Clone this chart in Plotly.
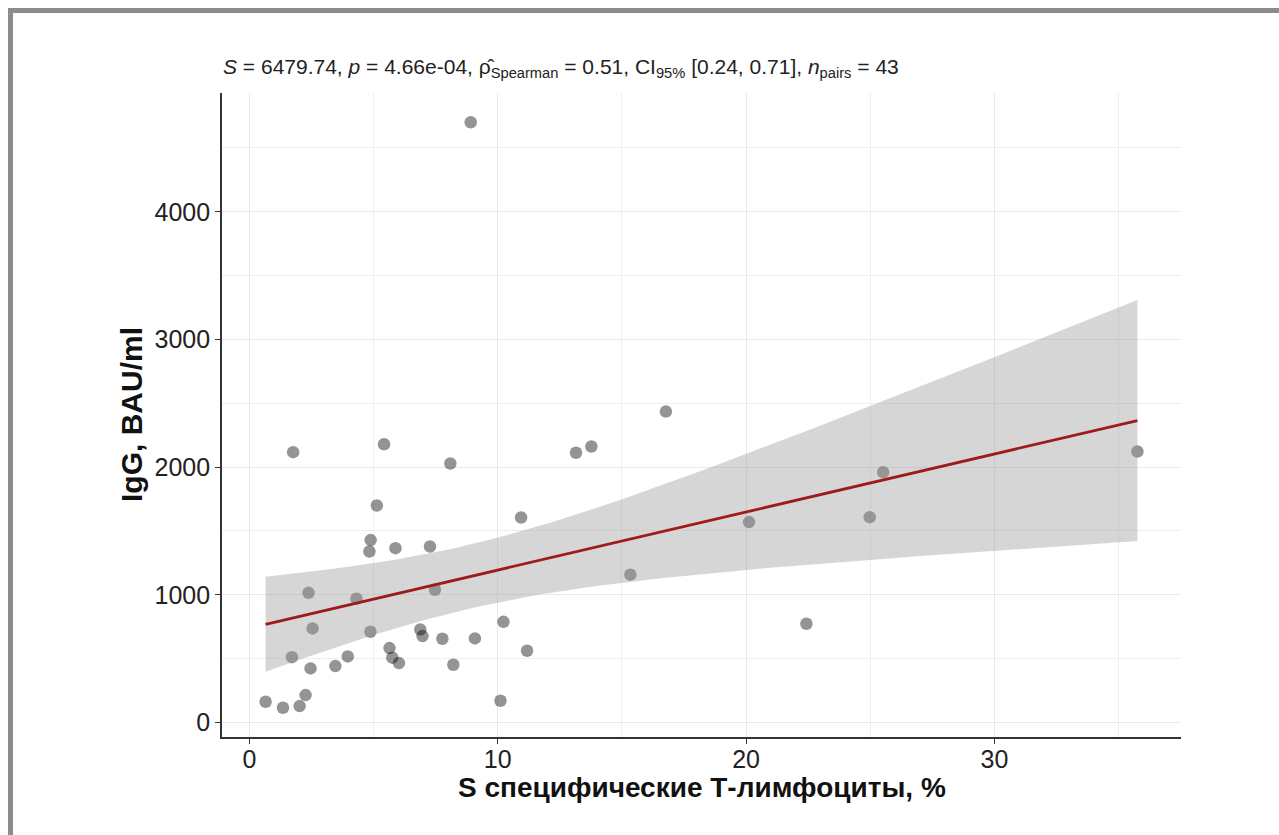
import numpy as np
import plotly.graph_objects as go

# ---- data ----
t_cells = [0.65, 1.35, 2.02, 2.26, 1.71, 1.76, 2.38, 2.54, 2.46, 3.46,
           3.96, 4.31, 4.87, 4.83, 4.88, 5.13, 5.42, 5.64, 5.75, 6.02,
           5.88, 6.88, 6.97, 7.27, 7.47, 7.77, 8.09, 8.21, 9.08, 10.11,
           10.23, 10.94, 11.18, 13.15, 13.77, 8.91, 16.77, 15.34, 20.12, 22.43,
           25.52, 24.98, 35.76]
igg = [162, 115, 128, 214, 511, 2117, 1015, 736, 423, 441,
       517, 969, 710, 1339, 1428, 1699, 2179, 582, 507, 465,
       1365, 728, 676, 1378, 1039, 655, 2028, 452, 658, 170,
       788, 1605, 561, 2112, 2161, 4701, 2435, 1157, 1569, 773,
       1960, 1608, 2122]

x_ticks = [0, 10, 20, 30]
y_ticks = [0, 1000, 2000, 3000, 4000]

subtitle = ("<i>S</i> = 6479.74, <i>p</i> = 4.66e-04, "
            "\u03c1\u0302<sub>Spearman</sub> = 0.51, "
            "CI<sub>95%</sub> [0.24, 0.71], <i>n</i><sub>pairs</sub> = 43")
x_title = "S специфические Т-лимфоциты, %"
y_title = "IgG, BAU/ml"

# ---- linear fit with 95% confidence band (as geom_smooth(method='lm')) ----
x = np.array(t_cells, dtype=float)
y = np.array(igg, dtype=float)
n = len(x)
slope, intercept = np.polyfit(x, y, 1)
resid = y - (intercept + slope * x)
s = np.sqrt(np.sum(resid ** 2) / (n - 2))
xbar = x.mean()
sxx = np.sum((x - xbar) ** 2)
t_crit = 2.0195  # t(0.975, df=41)
xs = np.linspace(x.min(), x.max(), 80)
fit = intercept + slope * xs
se = s * np.sqrt(1.0 / n + (xs - xbar) ** 2 / sxx)
upper = fit + t_crit * se
lower = fit - t_crit * se

# ---- layout geometry (pixels) ----
W, H = 1279, 835
L, R, T, B = 222, 98, 93, 98
PW, PH = W - L - R, H - T - B


def px_x(px):
    return (px - L) / PW


def px_y(py):
    return (H - B - py) / PH


FONT = "Liberation Sans, Arial, sans-serif"

fig = go.Figure()
fig.add_trace(go.Scatter(
    x=t_cells, y=igg, mode="markers",
    marker=dict(size=12.5, color="rgba(0,0,0,0.42)", line=dict(width=0)),
    showlegend=False, hoverinfo="x+y"))
fig.add_trace(go.Scatter(
    x=np.concatenate([xs, xs[::-1]]), y=np.concatenate([upper, lower[::-1]]),
    fill="toself", fillcolor="rgba(153,153,153,0.4)", line=dict(width=0),
    mode="lines", showlegend=False, hoverinfo="skip"))
fig.add_trace(go.Scatter(
    x=xs, y=fit, mode="lines", line=dict(color="#9e1b1b", width=2.8),
    showlegend=False, hoverinfo="skip"))

xr = x.max() - x.min()
yr = y.max() - y.min()
axis_common = dict(
    showline=True, linecolor="#333333", linewidth=1.6, mirror=False,
    ticks="outside", ticklen=5, tickwidth=1.4, tickcolor="#333333",
    showgrid=True, gridcolor="#e9e9e9", gridwidth=1.3, zeroline=False,
    tickfont=dict(family=FONT, size=25, color="#222222"),
)
fig.update_xaxes(range=[x.min() - 0.05 * xr, x.max() + 0.05 * xr],
                 tickmode="array", tickvals=x_ticks, ticklabelstandoff=-6,
                 minor=dict(tickmode="linear", tick0=0, dtick=5, showgrid=True,
                            gridcolor="#efefef", gridwidth=1, ticks=""),
                 **axis_common)
fig.update_yaxes(range=[y.min() - 0.05 * yr, y.max() + 0.05 * yr],
                 tickmode="array", tickvals=y_ticks,
                 minor=dict(tickmode="linear", tick0=0, dtick=500, showgrid=True,
                            gridcolor="#efefef", gridwidth=1, ticks=""),
                 **axis_common)

annotations = [
    dict(text=subtitle, xref="paper", yref="paper", x=px_x(221), y=px_y(68),
         xanchor="left", yanchor="middle", showarrow=False,
         font=dict(family=FONT, size=21, color="#222222")),
    dict(text="<b>" + x_title + "</b>", xref="paper", yref="paper",
         x=0.5, y=px_y(787), xanchor="center", yanchor="middle", showarrow=False,
         font=dict(family=FONT, size=28, color="#111111")),
    dict(text="<b>" + y_title + "</b>", xref="paper", yref="paper",
         x=px_x(131), y=0.5, xanchor="center", yanchor="middle", textangle=-90,
         showarrow=False, font=dict(family=FONT, size=30, color="#111111")),
]

shapes = [
    dict(type="rect", xref="paper", yref="paper", layer="above",
         x0=px_x(8), x1=px_x(W + 5), y0=px_y(13), y1=px_y(8),
         fillcolor="#8c8c8c", line=dict(width=0)),
    dict(type="rect", xref="paper", yref="paper", layer="above",
         x0=px_x(8), x1=px_x(13), y0=px_y(H + 5), y1=px_y(8),
         fillcolor="#8c8c8c", line=dict(width=0)),
]

fig.update_layout(
    width=W, height=H, autosize=False,
    margin=dict(l=L, r=R, t=T, b=B, pad=0),
    paper_bgcolor="white", plot_bgcolor="white",
    annotations=annotations, shapes=shapes,
    font=dict(family=FONT),
)

fig.write_html("out.html", include_plotlyjs=True, config={"displayModeBar": False})
